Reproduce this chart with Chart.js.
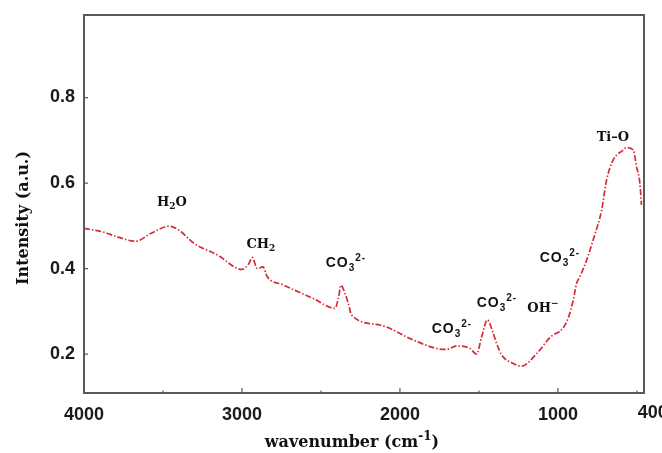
<!DOCTYPE html>
<html>
<head>
<meta charset="utf-8">
<script src="https://cdn.jsdelivr.net/npm/chart.js@4.4.1/dist/chart.umd.min.js"></script>
<style>
html,body{margin:0;padding:0;background:#fff;}
canvas{display:block;}
</style>
</head>
<body>
<canvas id="c" width="662" height="453"></canvas>
<script>
// ---- data ----
const wavenumbers = [4000,3873,3789,3673,3578,3462,3399,3304,3156,3000,2956,2935,2903,2867,2840,2740,2549,2411,2390,2373,2348,2327,2306,2127,1916,1768,1705,1641,1557,1515,1483,1447,1409,1388,1356,1283,1230,1132,1047,970,935,903,882,861,818,777,723,692,650,587,566,523,502,481,471];
const intensity = [0.494,0.485,0.474,0.464,0.482,0.499,0.490,0.459,0.432,0.398,0.412,0.426,0.400,0.404,0.381,0.362,0.330,0.307,0.330,0.361,0.342,0.319,0.291,0.268,0.233,0.213,0.211,0.219,0.213,0.200,0.240,0.280,0.248,0.225,0.198,0.178,0.172,0.202,0.240,0.260,0.284,0.326,0.365,0.381,0.420,0.467,0.537,0.607,0.654,0.677,0.683,0.677,0.638,0.599,0.549];
const xMajorTicks = [4000,3000,2000,1000,400];
const xMinorTicks = [3500,2500,1500,500];
const yTicks = [0.2,0.4,0.6,0.8];
const xRange = [455,4000];
const yRange = [0.109,0.993];
const peakLabels = [
  {w:3443, v:0.558, parts:[['H',0],['2',1],['O',0]], font:'serif'},
  {w:2880, v:0.460, parts:[['CH',0],['2',1]], font:'serif'},
  {w:2342, v:0.415, parts:[['CO',0],['3',1],['2-',2]], font:'sans'},
  {w:1671, v:0.261, parts:[['CO',0],['3',1],['2-',2]], font:'sans'},
  {w:1386, v:0.322, parts:[['CO',0],['3',1],['2-',2]], font:'sans'},
  {w:1095, v:0.310, parts:[['OH',0],['\u2212',2]], font:'serif'},
  {w:987,  v:0.427, parts:[['CO',0],['3',1],['2-',2]], font:'sans'},
  {w:652,  v:0.710, parts:[['Ti\u2013O',0]], font:'serif'}
];

const points = wavenumbers.map((w,i)=>({x:w,y:intensity[i]}));

const SERIF = '"DejaVu Serif", serif';
const SANS = '"Liberation Sans", Arial, sans-serif';

function drawRich(ctx, parts, cx, cy, family, size, spacing){
  const big = 'bold ' + size + 'px ' + family;
  const small = 'bold ' + Math.round(size*0.72) + 'px ' + family;
  ctx.letterSpacing = (spacing||0) + 'px';
  let total = 0;
  const widths = parts.map(p=>{ ctx.font = p[1]===0?big:small; const w = ctx.measureText(p[0]).width; total += w; return w; });
  let x = cx - total/2;
  const base = cy + size*0.36;
  ctx.textAlign = 'left';
  ctx.textBaseline = 'alphabetic';
  parts.forEach((p,i)=>{
    ctx.font = p[1]===0?big:small;
    let y = base;
    if (p[1]===1) y = base + size*0.28;
    if (p[1]===2) y = base - size*0.45;
    ctx.fillText(p[0], x, y);
    x += widths[i];
  });
  ctx.letterSpacing = '0px';
}

const decor = {
  id:'decor',
  afterDraw(chart){
    const ctx = chart.ctx, a = chart.chartArea;
    const xs = chart.scales.x, ys = chart.scales.y;
    ctx.save();
    // frame
    ctx.strokeStyle = '#5a5a5a';
    ctx.lineWidth = 2;
    ctx.strokeRect(a.left, a.top, a.right-a.left, a.bottom-a.top);
    // inward ticks
    ctx.lineWidth = 1.2;
    ctx.beginPath();
    xMajorTicks.forEach(v=>{ if(v>=xRange[0] && v<=xRange[1]){ const p = xs.getPixelForValue(v); ctx.moveTo(p,a.bottom); ctx.lineTo(p,a.bottom-5);} });
    xMinorTicks.forEach(v=>{ if(v>=xRange[0] && v<=xRange[1]){ const p = xs.getPixelForValue(v); ctx.moveTo(p,a.bottom); ctx.lineTo(p,a.bottom-2.5);} });
    yTicks.forEach(v=>{ const p = ys.getPixelForValue(v); ctx.moveTo(a.left,p); ctx.lineTo(a.left+4,p); });
    ctx.stroke();
    // tick labels for major ticks that lie beyond the frame
    ctx.fillStyle = '#1a1a1a';
    ctx.font = 'bold 18px ' + SANS;
    ctx.textAlign = 'center';
    ctx.textBaseline = 'top';
    xMajorTicks.forEach(v=>{ if(v<xRange[0]){ ctx.fillText(String(v), xs.getPixelForValue(v), a.bottom+11); } });
    // peak labels
    ctx.fillStyle = '#111';
    peakLabels.forEach(l=>{
      const px = xs.getPixelForValue(l.w), py = ys.getPixelForValue(l.v);
      if (l.font==='sans') drawRich(ctx, l.parts, px, py, SANS, 14, 1);
      else drawRich(ctx, l.parts, px, py, SERIF, 13, 0);
    });
    // axis titles
    ctx.fillStyle = '#111';
    ctx.save();
    ctx.translate(22, 218);
    ctx.rotate(-Math.PI/2);
    drawRich(ctx, [['Intensity (a.u.)',0]], 0, 0, SERIF, 16, 0);
    ctx.restore();
    drawRich(ctx, [['wavenumber (cm',0],['-1',2],[')',0]], 352, 441, SERIF, 16, 0);
    ctx.restore();
  }
};

new Chart(document.getElementById('c'), {
  type:'line',
  data:{ datasets:[{
    data: points,
    borderColor:'rgb(212,44,58)',
    borderWidth:1.7,
    borderDash:[6,2,1.5,2],
    pointRadius:0,
    fill:false,
    cubicInterpolationMode:'monotone'
  }]},
  options:{
    responsive:false,
    animation:false,
    events:[],
    layout:{ padding:{ left:0, right:18, top:15, bottom:0 } },
    plugins:{ legend:{display:false}, tooltip:{enabled:false} },
    scales:{
      x:{
        type:'linear', reverse:true, min:xRange[0], max:xRange[1],
        afterBuildTicks(s){ s.ticks = xMajorTicks.filter(v=>v>=xRange[0]&&v<=xRange[1]).map(v=>({value:v})); },
        afterFit(s){ s.height = 60; s.paddingLeft = 0; s.paddingRight = 0; },
        grid:{ display:false, drawTicks:false },
        border:{ display:false },
        ticks:{ autoSkip:false, maxRotation:0, padding:11, color:'#1a1a1a',
          font:{ family:SANS, weight:'bold', size:18 },
          callback:v=>String(v) }
      },
      y:{
        type:'linear', min:yRange[0], max:yRange[1],
        afterBuildTicks(s){ s.ticks = yTicks.map(v=>({value:v})); },
        afterFit(s){ s.width = 84; s.paddingTop = 0; s.paddingBottom = 0; },
        grid:{ display:false, drawTicks:false },
        border:{ display:false },
        ticks:{ padding:9, color:'#1a1a1a',
          font:{ family:SANS, weight:'bold', size:18 },
          callback:v=>v.toFixed(1) }
      }
    }
  },
  plugins:[decor]
});
</script>
</body>
</html>
